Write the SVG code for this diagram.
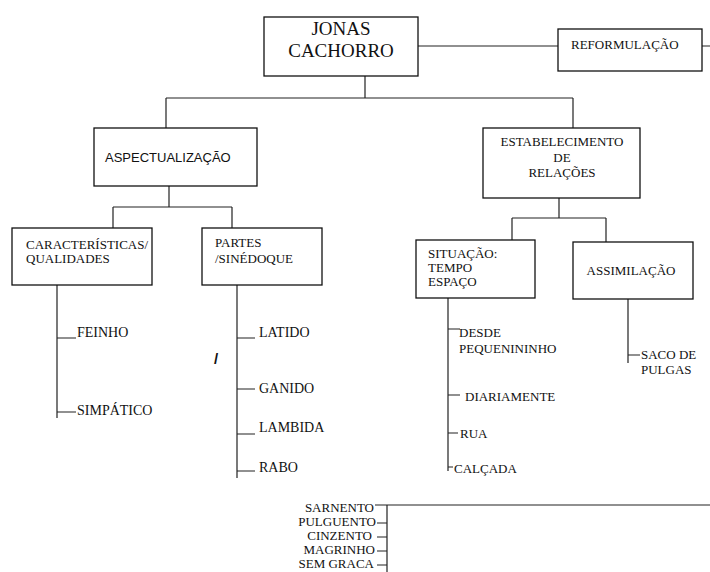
<svg xmlns="http://www.w3.org/2000/svg" width="710" height="572" viewBox="0 0 710 572">
<style>
.box{fill:#fff;stroke:#111;stroke-width:1.3}
.ln{fill:none;stroke:#222;stroke-width:1.2}
.t{font-family:"Liberation Serif","Times New Roman",serif;font-size:13px;fill:#111}
.t14{font-family:"Liberation Serif","Times New Roman",serif;font-size:14px;fill:#111}
.s{font-family:"Liberation Sans",Arial,sans-serif;font-size:13px;fill:#111}
.c{text-anchor:middle}
.e{text-anchor:end}
</style>
<rect width="710" height="572" fill="#fff"/>
<g id="connectors">
<path class="ln" d="M418,46H558 M702,46H710"/>
<path class="ln" d="M365,76V98 M166,98H573 M166,98V128 M573,98V128"/>
<path class="ln" d="M169,186V207 M113,207H232 M113,207V228 M232,207V228"/>
<path class="ln" d="M559,198V218 M512,218H606 M512,218V240 M606,218V242"/>
<path class="ln" d="M57,285V418 M57,338H76 M57,412H76"/>
<path class="ln" d="M237,285V478 M237,338H255 M237,389H255 M237,434H255 M237,471H255"/>
<path class="ln" d="M448,298V471 M448,329H460 M448,395H460 M448,433H458 M448,467H453"/>
<path class="ln" d="M628,299V363 M628,355H640"/>
<path class="ln" d="M387,505V572 M387,505H710 M375,505H387 M377,523H387 M377,537H387 M377,551H387 M377,565H387"/>
</g>
<g id="jonas">
<rect class="box" x="264" y="17" width="154" height="59"/>
<text x="341" y="35" class="c" style="font-family:'Liberation Serif','Times New Roman',serif;font-size:19px;fill:#111">JONAS</text>
<text x="341" y="57" class="c" style="font-family:'Liberation Serif','Times New Roman',serif;font-size:19px;fill:#111">CACHORRO</text>
</g>
<g id="reformulacao">
<rect class="box" x="558" y="29" width="144" height="42"/>
<text x="571" y="49" class="t">REFORMULAÇÃO</text>
</g>
<g id="aspectualizacao">
<rect class="box" x="94" y="128" width="163" height="58"/>
<text x="105" y="162" class="s">ASPECTUALIZAÇÃO</text>
</g>
<g id="estabelecimento">
<rect class="box" x="483" y="128" width="157" height="70"/>
<text x="562" y="146" class="t c">ESTABELECIMENTO</text>
<text x="562" y="162" class="t c">DE</text>
<text x="562" y="177" class="t c">RELAÇÕES</text>
</g>
<g id="caracteristicas">
<rect class="box" x="12" y="228" width="140" height="57"/>
<text x="26" y="249" class="t">CARACTERÍSTICAS/</text>
<text x="26" y="263" class="t">QUALIDADES</text>
</g>
<g id="partes">
<rect class="box" x="202" y="228" width="120" height="57"/>
<text x="215" y="247" class="t">PARTES</text>
<text x="215" y="263" class="t">/SINÉDOQUE</text>
</g>
<g id="situacao">
<rect class="box" x="416" y="240" width="119" height="58"/>
<text x="428" y="258" class="t">SITUAÇÃO:</text>
<text x="428" y="272" class="t">TEMPO</text>
<text x="428" y="286" class="t">ESPAÇO</text>
</g>
<g id="assimilacao">
<rect class="box" x="573" y="242" width="120" height="57"/>
<text x="631" y="275" class="t c">ASSIMILAÇÃO</text>
</g>
<g id="leaves-caracteristicas">
<text x="77" y="337" class="t14">FEINHO</text>
<text x="77" y="415" class="t14">SIMPÁTICO</text>
</g>
<g id="leaves-partes">
<text x="259" y="337" class="t14">LATIDO</text>
<text x="259" y="393" class="t14">GANIDO</text>
<text x="259" y="432" class="t14">LAMBIDA</text>
<text x="259" y="472" class="t14">RABO</text>
<text x="214" y="364" style="font-family:'Liberation Sans',Arial,sans-serif;font-size:15px;font-weight:bold;fill:#111">/</text>
</g>
<g id="leaves-situacao">
<text x="459" y="337" class="t">DESDE</text>
<text x="459" y="353" class="t">PEQUENININHO</text>
<text x="465" y="401" class="t">DIARIAMENTE</text>
<text x="460" y="438" class="t">RUA</text>
<text x="454" y="473" class="t">CALÇADA</text>
</g>
<g id="leaves-assimilacao">
<text x="641" y="359" class="t">SACO DE</text>
<text x="641" y="374" class="t">PULGAS</text>
</g>
<g id="leaves-bottom">
<text x="374" y="512" class="t e">SARNENTO</text>
<text x="376" y="526" class="t e">PULGUENTO</text>
<text x="372" y="540" class="t e">CINZENTO</text>
<text x="375" y="554" class="t e">MAGRINHO</text>
<text x="374" y="568" class="t e">SEM GRACA</text>
</g>
</svg>
